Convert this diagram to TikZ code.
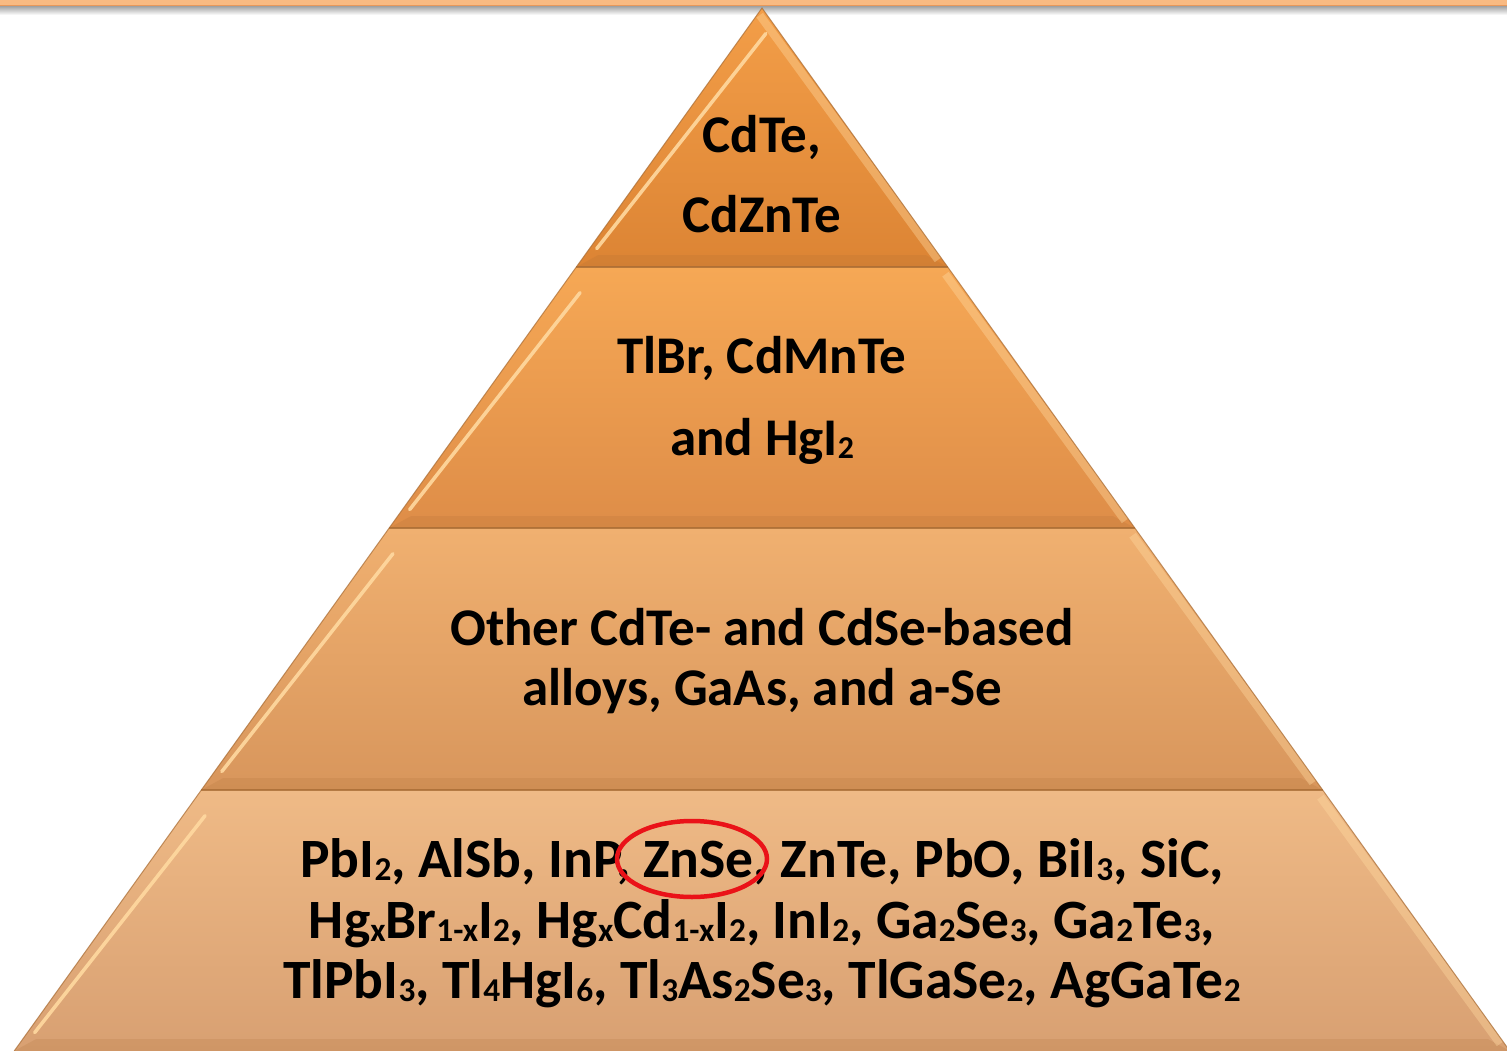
\documentclass[tikz,border=0pt]{standalone}
\usepackage{fontspec}
\usepackage{graphicx}
\setmainfont{Carlito}
\usetikzlibrary{calc,shapes.geometric}
\definecolor{bandtop}{HTML}{F9BA82}
\definecolor{banddark}{HTML}{E8985A}
\definecolor{ringred}{HTML}{EA1218}
\definecolor{t1top}{HTML}{F39E48}
\definecolor{t1bot}{HTML}{DC8434}
\definecolor{t2top}{HTML}{F6A855}
\definecolor{t2bot}{HTML}{DE8D48}
\definecolor{t3top}{HTML}{F0B070}
\definecolor{t3bot}{HTML}{D8965C}
\definecolor{t4top}{HTML}{EFBA86}
\definecolor{t4bot}{HTML}{D8A072}
\definecolor{edgedark}{HTML}{A86C34}
\definecolor{hilite}{HTML}{FFD9A0}
\newcommand\sbx[1]{\raisebox{-0.07em}{\scalebox{0.6}{#1}}}
\tikzset{
  lbl/.style={anchor=base, inner sep=0pt, font=\fontsize{53}{60}\selectfont\bfseries, text=black},
  lblbig/.style={lbl, font=\fontsize{55.5}{62}\selectfont\bfseries},
  ring/.style={draw=ringred, line width=4.5pt},
  botbevel/.style={fill=edgedark, opacity=0.18},
}
\begin{document}
\begin{tikzpicture}[x=1pt,y=-1pt]
\useasboundingbox (0,0) rectangle (1507,1051);
% top band
\fill[bandtop] (0,0) rectangle (1507,5);
\fill[banddark] (0,5) rectangle (1507,6.5);
\shade[top color=black!35, bottom color=white] (0,6.5) rectangle (1507,15);
% tier corner coordinates
\coordinate (apex) at (762,8);
\coordinate (l1) at (576.3,267); \coordinate (r1) at (947.7,267);
\coordinate (l2) at (389.2,528); \coordinate (r2) at (1134.8,528);
\coordinate (l3) at (201.3,790); \coordinate (r3) at (1322.7,790);
\coordinate (l4) at (14.2,1051); \coordinate (r4) at (1509.8,1051);
% tier fills
\shade[top color=t1top, bottom color=t1bot] (apex) -- (r1) -- (l1) -- cycle;
\shade[top color=t2top, bottom color=t2bot] (l1) -- (r1) -- (r2) -- (l2) -- cycle;
\shade[top color=t3top, bottom color=t3bot] (l2) -- (r2) -- (r3) -- (l3) -- cycle;
\shade[top color=t4top, bottom color=t4bot] (l3) -- (r3) -- (r4) -- (l4) -- cycle;
% bottom bevel strips
\foreach \l/\r in {l1/r1, l2/r2, l3/r3, l4/r4}{
  \fill[botbevel] (\l) -- (\r) -- ($(\r)+(-22,-12)$) -- ($(\l)+(22,-12)$) -- cycle;
}
% bevel highlights (left inner edge)
\foreach \a/\b in {apex/l1, l1/l2, l2/l3, l3/l4}{
  \draw[hilite, line width=3.5pt, line cap=round, opacity=0.9]
    ($(\a)!0.06!(\b)+(15,10)$) -- ($(\a)!0.96!(\b)+(13,-8)$);
}
% right edge lighter strip
\foreach \a/\b in {apex/r1, r1/r2, r2/r3, r3/r4}{
  \draw[hilite, line width=8pt, opacity=0.4]
    ($(\a)!0.02!(\b)+(-6,2)$) -- ($(\a)!0.98!(\b)+(-6,-2)$);
}
% outlines
\draw[edgedark, line width=1pt, opacity=0.7] (l4) -- (apex) -- (r4);
\draw[edgedark, line width=2pt, opacity=0.8] (l1) -- (r1);
\draw[edgedark, line width=2pt, opacity=0.8] (l2) -- (r2);
\draw[edgedark, line width=2pt, opacity=0.8] (l3) -- (r3);
% texts
\node[lbl] (a1) at (762,153) {CdTe,};
\node[lbl] (a2) at (762,233) {CdZnTe};
\node[lbl] (b1) at (762,373) {TlBr, CdMnTe};
\node[lbl] (b2) at (762,455) {and HgI\sbx{2}};
\node[lbl] (c1) at (762,645) {Other CdTe- and CdSe-based};
\node[lbl] (c2) at (762,705) {alloys, GaAs, and a-Se};
\node[lblbig] (d1) at (762,877) {PbI\sbx{2}, AlSb, InP, ZnSe, ZnTe, PbO, BiI\sbx{3}, SiC,};
\node[lblbig] (d2) at (762,938) {Hg\sbx{x}Br\sbx{1-x}I\sbx{2}, Hg\sbx{x}Cd\sbx{1-x}I\sbx{2}, InI\sbx{2}, Ga\sbx{2}Se\sbx{3}, Ga\sbx{2}Te\sbx{3},};
\node[lblbig] (d3) at (762,998) {TlPbI\sbx{3}, Tl\sbx{4}HgI\sbx{6}, Tl\sbx{3}As\sbx{2}Se\sbx{3}, TlGaSe\sbx{2}, AgGaTe\sbx{2}};
% red ring around ZnSe
\node[ring, ellipse, minimum width=150pt, minimum height=76pt, inner sep=0pt] (zn) at (692,859) {};
\end{tikzpicture}
\end{document}
